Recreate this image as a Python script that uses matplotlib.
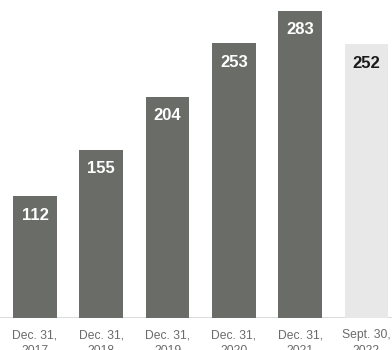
import matplotlib.pyplot as plt

plt.rcParams["font.family"] = ["Liberation Sans", "DejaVu Sans"]

# --- Daten ---------------------------------------------------------------
periods = ["Dec. 31,\n2017", "Dec. 31,\n2018", "Dec. 31,\n2019",
           "Dec. 31,\n2020", "Dec. 31,\n2021", "Sept. 30,\n2022"]
values = [112, 155, 204, 253, 283, 252]
bar_colors = ["#6a6c67"] * 5 + ["#e8e8e8"]
label_colors = ["white"] * 5 + ["#1a1a1a"]

fig = plt.figure(figsize=(3.92, 3.5), dpi=100)
ax = fig.add_axes([0, 32 / 350, 1, 318 / 350])

x = range(len(values))
ax.bar(x, values, width=0.66, color=bar_colors, zorder=2)
ax.axhline(0, color="#d4d4d4", linewidth=1.2, zorder=1)

for i, v in enumerate(values):
    ax.annotate(f"{v}", (i, v), xytext=(0, -13.5), textcoords="offset points",
                ha="center", va="center", fontsize=12, fontweight="bold",
                color=label_colors[i])

ax.set_xlim(-0.528, 5.385)
ax.set_ylim(0, 293)
ax.set_xticks(list(x))
ax.set_xticklabels(periods, fontsize=8.7, color="#6b6b6b", linespacing=1.45)
ax.tick_params(axis="x", length=0, pad=8)
ax.set_yticks([])
for s in ax.spines.values():
    s.set_visible(False)

fig.savefig("out.png", dpi=100)
